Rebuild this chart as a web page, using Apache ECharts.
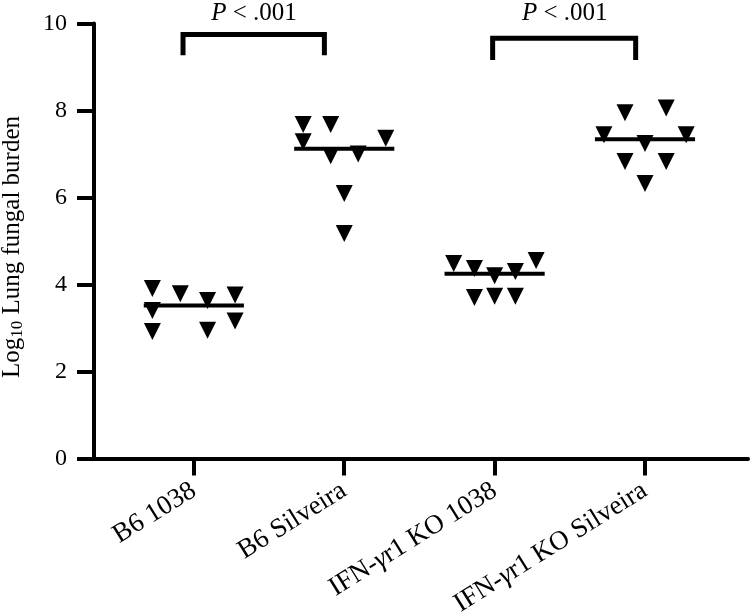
<!DOCTYPE html>
<html><head><meta charset="utf-8">
<script src="https://cdn.jsdelivr.net/npm/echarts@6/dist/echarts.min.js"></script>
<style>html,body{margin:0;padding:0;background:#fff}#c{width:750px;height:616px}</style>
</head><body><div id="c"></div>
<script>
// ---- data ----
const categories = ['B6 1038', 'B6 Silveira', 'IFN-\u03b3r1 KO 1038', 'IFN-\u03b3r1 KO Silveira'];
const yTicks = [0, 2, 4, 6, 8, 10];
// Log10 lung fungal burden, one value per mouse
const b6_1038        = [3.91, 3.40, 2.92, 3.79, 3.63, 2.95, 3.76, 3.16];
const b6_silveira    = [7.68, 7.28, 7.68, 6.96, 6.09, 5.17, 7.00, 7.36];
const ko_1038        = [4.48, 4.37, 3.70, 4.20, 3.73, 4.30, 3.73, 4.55];
const ko_silveira    = [7.44, 7.95, 6.83, 7.24, 6.32, 8.06, 6.83, 7.44];
// horizontal scatter (jitter) of each point, in category units
const b6_1038_jit     = [-0.276, -0.276, -0.276, -0.09, 0.091, 0.091, 0.274, 0.274];
const b6_silveira_jit = [-0.273, -0.273, -0.09, -0.09, 0, 0, 0.093, 0.276];
const ko_1038_jit     = [-0.272, -0.134, -0.134, 0, 0, 0.138, 0.138, 0.276];
const ko_silveira_jit = [-0.273, -0.133, -0.133, 0, 0, 0.141, 0.141, 0.274];
// median lines
const medians = [3.52, 7.12, 4.25, 7.34];
// significance brackets: [xLeft, xRight, yTop, yLegBottom, labelX, labelY]
const bracketLeft  = [-0.072, 0.868, 9.75, 9.27, 0.40, 10.23];
const bracketRight = [1.987, 2.938, 9.66, 9.16, 2.466, 10.23];
const pText = ['P', ' < .001'];

// ---- chart ----
const FONT = 'Liberation Serif';
const groups = [
  [b6_1038, b6_1038_jit], [b6_silveira, b6_silveira_jit],
  [ko_1038, ko_1038_jit], [ko_silveira, ko_silveira_jit]
];
const idx = categories.map((_, i) => i);
const MEDIAN_HALF = 0.333;

const scatterSeries = groups.map((g, gi) => ({
  type: 'scatter',
  data: g[0].map((v, i) => [gi + g[1][i], v]),
  symbol: 'triangle',
  symbolRotate: 180,
  symbolSize: [17, 17],
  itemStyle: { color: '#000', opacity: 1 },
  emphasis: { disabled: true },
  z: 2
}));

function catLabel(v) {
  const s = categories[Math.round(v)] || '';
  // render the Greek gamma in italics as in the source figure
  return s.split('\u03b3').map(p => p ? '{t|' + p + '}' : '').join('{g|\u03b3}');
}

const chart = echarts.init(document.getElementById('c'), null, { renderer: 'canvas' });
chart.setOption({
  animation: false,
  backgroundColor: '#ffffff',
  grid: { left: 94, right: 2, top: 23.5, bottom: 157.5, containLabel: false, outerBoundsMode: 'none' },
  xAxis: {
    type: 'value', min: -0.664, max: 3.685,
    splitLine: { show: false },
    axisLine: { show: true, onZero: false, lineStyle: { color: '#000', width: 4 } },
    axisTick: { show: true, customValues: idx, length: 17, lineStyle: { color: '#000', width: 4 } },
    axisLabel: {
      customValues: idx, formatter: catLabel,
      rotate: 32, margin: 30, color: '#000',
      rich: {
        t: { fontSize: 27, fontFamily: FONT, color: '#000' },
        g: { fontSize: 27, fontFamily: FONT, color: '#000', fontStyle: 'italic' }
      }
    }
  },
  yAxis: {
    type: 'value', min: yTicks[0], max: yTicks[yTicks.length - 1], interval: 2,
    splitLine: { show: false },
    axisLine: { show: true, onZero: false, lineStyle: { color: '#000', width: 4 } },
    axisTick: { show: true, length: 17, lineStyle: { color: '#000', width: 4 } },
    axisLabel: { margin: 27, fontSize: 24, fontFamily: FONT, color: '#000' },
    name: '{a|Log}{s|10}{a| Lung fungal burden}',
    nameLocation: 'middle', nameRotate: 90, nameGap: 68,
    nameTextStyle: {
      color: '#000',
      padding: [0, 12, 0, 0],
      rich: {
        a: { fontSize: 25, fontFamily: FONT, color: '#000' },
        s: { fontSize: 17, fontFamily: FONT, color: '#000', padding: [10, 0, 0, 0] }
      }
    }
  },
  series: [
    ...scatterSeries,
    {
      type: 'custom',
      data: medians.map((m, i) => [i, m]),
      renderItem: (params, api) => {
        const g = api.value(0), m = api.value(1);
        const p1 = api.coord([g - MEDIAN_HALF, m]);
        const p2 = api.coord([g + MEDIAN_HALF, m]);
        return { type: 'line', shape: { x1: p1[0], y1: p1[1], x2: p2[0], y2: p2[1] },
                 style: { stroke: '#000', lineWidth: 4 } };
      },
      z: 3
    },
    {
      type: 'custom',
      clip: false,
      data: [bracketLeft, bracketRight],
      renderItem: (params, api) => {
        const x1 = api.value(0), x2 = api.value(1), top = api.value(2), bot = api.value(3);
        const a = api.coord([x1, bot]), b = api.coord([x1, top]);
        const c = api.coord([x2, top]), d = api.coord([x2, bot]);
        const t = api.coord([api.value(4), api.value(5)]);
        return {
          type: 'group',
          children: [
            { type: 'polyline', shape: { points: [a, b, c, d] },
              style: { stroke: '#000', lineWidth: 5, fill: null, lineJoin: 'miter' } },
            { type: 'text', x: t[0], y: t[1],
              style: {
                text: '{i|' + pText[0] + '}{n|' + pText[1] + '}',
                align: 'center', verticalAlign: 'middle',
                rich: {
                  i: { fontStyle: 'italic', fontSize: 25, fontFamily: FONT, fill: '#000' },
                  n: { fontSize: 25, fontFamily: FONT, fill: '#000' }
                }
              } }
          ]
        };
      },
      z: 4
    }
  ]
});
</script>
</body></html>
